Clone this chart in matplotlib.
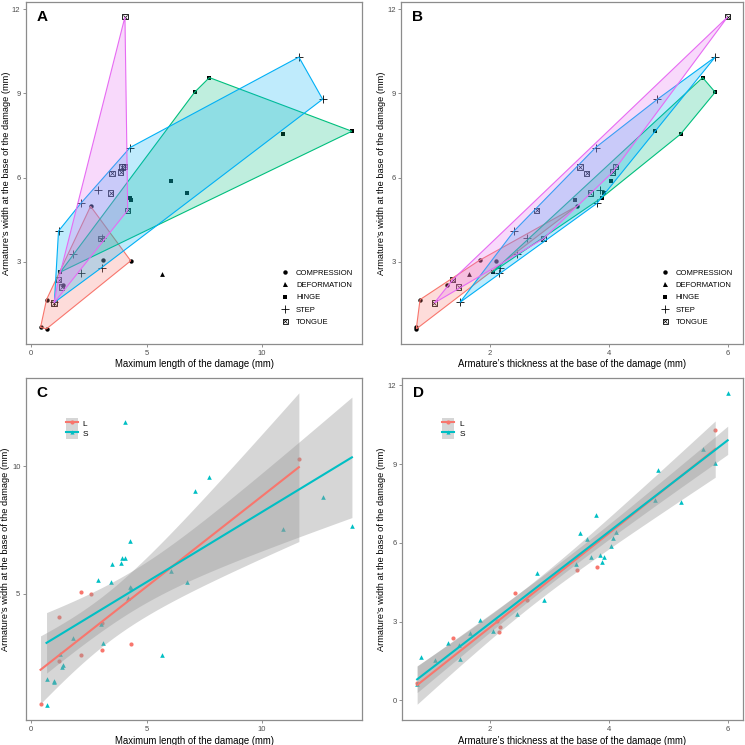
import math
import numpy as np
import matplotlib.pyplot as plt
from matplotlib.lines import Line2D
from matplotlib.patches import Patch, Polygon

plt.rcParams['font.family'] = ['Liberation Sans', 'DejaVu Sans']

# one entry per damaged armature
damage_type = ['COMPRESSION', 'COMPRESSION', 'COMPRESSION', 'COMPRESSION', 'COMPRESSION',
               'COMPRESSION', 'COMPRESSION', 'DEFORMATION',
               'HINGE', 'HINGE', 'HINGE', 'HINGE', 'HINGE', 'HINGE', 'HINGE', 'HINGE', 'HINGE',
               'STEP', 'STEP', 'STEP', 'STEP', 'STEP', 'STEP', 'STEP', 'STEP', 'STEP', 'STEP', 'STEP',
               'TONGUE', 'TONGUE', 'TONGUE', 'TONGUE', 'TONGUE', 'TONGUE', 'TONGUE', 'TONGUE',
               'TONGUE', 'TONGUE', 'TONGUE']
size_group = ['L', 'S', 'S', 'L', 'L', 'S', 'S', 'S',
              'S', 'S', 'S', 'S', 'S', 'S', 'S', 'S', 'S',
              'L', 'S', 'S', 'S', 'L', 'L', 'S', 'L', 'L', 'L', 'S',
              'S', 'S', 'S', 'S', 'S', 'S', 'S', 'L', 'S', 'S', 'S']
length = [0.40, 0.66, 0.66, 2.57, 4.31, 3.09, 1.39, 5.68,
          7.72, 7.08, 13.90, 10.91, 6.06, 6.75, 4.28, 4.31, 1.26,
          11.60, 12.63, 4.28, 2.89, 2.14, 1.18, 1.82, 3.05, 2.17, 3.05, 1.00,
          4.06, 3.93, 4.05, 3.87, 3.50, 3.45, 4.18, 1.18, 1.31, 0.98, 3.02]
thickness = [0.77, 0.77, 0.83, 3.46, 2.11, 1.83, 1.29, 1.66,
             5.58, 5.79, 4.78, 5.21, 4.04, 3.92, 3.88, 3.44, 2.05,
             5.79, 4.82, 3.78, 3.85, 3.80, 2.41, 2.46, 2.62, 2.15, 2.17, 1.50,
             6.00, 3.52, 4.12, 4.07, 3.63, 3.69, 2.79, 1.38, 1.48, 1.07, 2.90]
width = [0.67, 0.62, 1.66, 4.98, 3.04, 3.06, 2.19, 2.58,
         9.56, 9.04, 7.65, 7.55, 5.89, 5.47, 5.28, 5.21, 2.64,
         10.29, 8.79, 7.07, 5.55, 5.08, 4.10, 3.28, 3.84, 2.61, 2.80, 1.56,
         11.72, 6.38, 6.40, 6.20, 6.16, 5.45, 4.84, 2.37, 2.11, 1.54, 3.82]

types = ['COMPRESSION', 'DEFORMATION', 'HINGE', 'STEP', 'TONGUE']
type_colors = ['#F8766D', '#A3A500', '#00BF7D', '#00B0F6', '#E76BF3']
groups = ['L', 'S']
group_colors = ['#F8766D', '#00BFC4']

damage_type = np.array(damage_type)
size_group = np.array(size_group)
length = np.array(length)
thickness = np.array(thickness)
width = np.array(width)

xlab_len = 'Maximum length of the damage (mm)'
xlab_thk = "Armature\u2019s thickness at the base of the damage (mm)"
ylab = "Armature\u2019s width at the base of the damage (mm)"


def convex_hull(px, py):
    pts = sorted(set(zip(px, py)))
    if len(pts) < 3:
        return pts

    def cross(o, a, b):
        return (a[0] - o[0]) * (b[1] - o[1]) - (a[1] - o[1]) * (b[0] - o[0])

    lower, upper = [], []
    for p in pts:
        while len(lower) >= 2 and cross(lower[-2], lower[-1], p) <= 0:
            lower.pop()
        lower.append(p)
    for p in reversed(pts):
        while len(upper) >= 2 and cross(upper[-2], upper[-1], p) <= 0:
            upper.pop()
        upper.append(p)
    return lower[:-1] + upper[:-1]


def t_quantile(p, df):
    xs = np.linspace(0, 30, 30001)
    c = math.exp(math.lgamma((df + 1) / 2) - math.lgamma(df / 2)) / math.sqrt(df * math.pi)
    pdf = c * (1 + xs ** 2 / df) ** (-(df + 1) / 2)
    cdf = 0.5 + np.concatenate([[0], np.cumsum((pdf[1:] + pdf[:-1]) / 2 * np.diff(xs))])
    return np.interp(p, cdf, xs)


def style_axes(ax, xlim, ylim, xticks, yticks, xlabel, letter, ylab_off):
    ax.set_xlim(*xlim)
    ax.set_ylim(*ylim)
    ax.set_xticks(xticks)
    ax.set_yticks(yticks)
    ax.tick_params(labelsize=5.5, labelcolor='#4D4D4D', color='#7F7F7F',
                   length=2.5, width=0.6, pad=1.5)
    for s in ax.spines.values():
        s.set_color('#8C8C8C')
        s.set_linewidth(0.9)
    ax.set_xlabel(xlabel, fontsize=6.9, labelpad=2)
    ax.set_ylabel(ylab, fontsize=6.7)
    w_px = ax.get_position().width * 745
    ax.yaxis.set_label_coords(-ylab_off / w_px, 0.5)
    ax.text(0.047, 0.956, letter, transform=ax.transAxes, fontsize=11,
            fontweight='bold', ha='center', va='center')


markers = {'COMPRESSION': ('o', 10), 'DEFORMATION': ('^', 12), 'HINGE': ('s', 10),
           'STEP': ('+', 30), 'TONGUE': ('s', 14)}


def hull_panel(ax, xvals):
    for t, col in zip(types, type_colors):
        m = damage_type == t
        mk, sz = markers[t]
        if t == 'TONGUE':
            ax.scatter(xvals[m], width[m], marker='s', s=sz, facecolors='none',
                       edgecolors='black', linewidths=0.6, zorder=2)
            ax.scatter(xvals[m], width[m], marker='x', s=9, c='black',
                       linewidths=0.5, zorder=2)
        elif t == 'STEP':
            ax.scatter(xvals[m], width[m], marker=mk, s=sz, c='black',
                       linewidths=0.6, zorder=2)
        else:
            ax.scatter(xvals[m], width[m], marker=mk, s=sz, c='black',
                       linewidths=0, zorder=2)
        h = convex_hull(xvals[m], width[m])
        if len(h) >= 3:
            ax.add_patch(Polygon(h, closed=True, facecolor=col, alpha=0.25,
                                 edgecolor='none', zorder=3))
            ax.add_patch(Polygon(h, closed=True, facecolor='none',
                                 edgecolor=col, lw=0.8, zorder=3))
    handles = [
        Line2D([], [], ls='none', marker='o', color='k', ms=3.2, mew=0),
        Line2D([], [], ls='none', marker='^', color='k', ms=3.6, mew=0),
        Line2D([], [], ls='none', marker='s', color='k', ms=3.0, mew=0),
        Line2D([], [], ls='none', marker='+', color='k', ms=5.5, mew=0.6),
        (Line2D([], [], ls='none', marker='s', mfc='none', mec='k', ms=3.6, mew=0.6),
         Line2D([], [], ls='none', marker='x', color='k', ms=3.0, mew=0.5)),
    ]
    ax.legend(handles, types, loc='lower left', bbox_to_anchor=(0.76, 0.053),
              frameon=False, fontsize=5.5, handlelength=1.0, handletextpad=0.9,
              labelspacing=0.65, borderpad=0, borderaxespad=0)


def smooth_panel(ax, xvals):
    for g, col in zip(groups, group_colors):
        m = size_group == g
        mk = 'o' if g == 'L' else '^'
        ax.scatter(xvals[m], width[m], marker=mk, s=9 if g == 'L' else 11,
                   c=col, linewidths=0, zorder=2)
    for g, col in zip(groups, group_colors):
        m = size_group == g
        x, y = xvals[m], width[m]
        n = len(x)
        b, a = np.polyfit(x, y, 1)
        resid = y - (a + b * x)
        s = math.sqrt(np.sum(resid ** 2) / (n - 2))
        xs = np.linspace(x.min(), x.max(), 80)
        fit = a + b * xs
        se = s * np.sqrt(1 / n + (xs - x.mean()) ** 2 / np.sum((x - x.mean()) ** 2))
        tq = t_quantile(0.975, n - 2)
        ax.fill_between(xs, fit - tq * se, fit + tq * se, color='#999999',
                        alpha=0.4, lw=0, zorder=3)
        ax.plot(xs, fit, color=col, lw=1.5, zorder=4)
    handles = []
    for g, col in zip(groups, group_colors):
        mk = 'o' if g == 'L' else '^'
        handles.append((Patch(facecolor='#999999', alpha=0.4, lw=0),
                        Line2D([], [], color=col, lw=1.5, marker=mk, ms=3, mew=0)))
    ax.legend(handles, groups, loc='upper left', bbox_to_anchor=(0.118, 0.883),
              frameon=False, fontsize=6, handlelength=1.45, handleheight=1.55,
              handletextpad=0.6, labelspacing=0, borderpad=0, borderaxespad=0)


fig = plt.figure(figsize=(7.45, 7.45), dpi=100)
W = H = 745.0


def axes_at(l, t, r, b):
    return fig.add_axes([l / W, 1 - b / H, (r - l) / W, (b - t) / H])


axA = axes_at(26, 1.7, 362.3, 344)
axB = axes_at(401.3, 1.7, 743, 344)
axC = axes_at(26, 377.7, 362.3, 720.3)
axD = axes_at(402, 377.7, 743, 720.3)

hull_panel(axA, length)
style_axes(axA, (-0.23, 14.35), (0.08, 12.26), [0, 5, 10], [3, 6, 9, 12], xlab_len, 'A', 15)

hull_panel(axB, thickness)
style_axes(axB, (0.515, 6.258), (0.08, 12.26), [2, 4, 6], [3, 6, 9, 12], xlab_thk, 'B', 15.5)

smooth_panel(axC, length)
style_axes(axC, (-0.23, 14.35), (0.04, 13.46), [0, 5, 10], [5, 10], xlab_len, 'C', 15.5)

smooth_panel(axD, thickness)
style_axes(axD, (0.515, 6.258), (-0.76, 12.29), [2, 4, 6], [0, 3, 6, 9, 12], xlab_thk, 'D', 15.5)

plt.savefig('out.png', dpi=100)
